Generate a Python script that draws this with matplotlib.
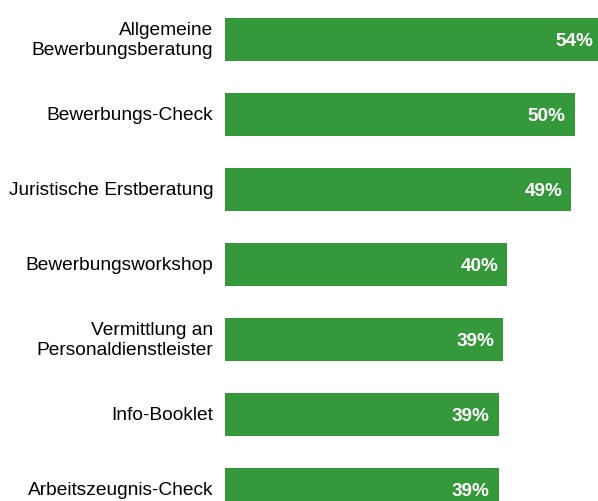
import matplotlib
matplotlib.use("Agg")
import matplotlib.pyplot as plt

categories = [
    "Allgemeine\nBewerbungsberatung",
    "Bewerbungs-Check",
    "Juristische Erstberatung",
    "Bewerbungsworkshop",
    "Vermittlung an\nPersonaldienstleister",
    "Info-Booklet",
    "Arbeitszeugnis-Check",
]
values = [53.6, 49.7, 49.2, 40.1, 39.5, 38.9, 38.9]
value_labels = ["54%", "50%", "49%", "40%", "39%", "39%", "39%"]

plt.rcParams['font.family'] = ['Liberation Sans', 'DejaVu Sans']

W, H = 598, 502
fig = plt.figure(figsize=(W / 100, H / 100), dpi=100)
ax = fig.add_axes([225 / W, 0, 1 - 225 / W, 1])

color = '#35983a'
pos = list(range(len(categories)))
ax.barh(pos, values, height=0.567, color=color, zorder=2)

ax.set_xlim(0, 53.0)
ax.set_ylim((H - 40.5) / 75.0, -40.5 / 75.0)

for i, (v, lab) in enumerate(zip(values, value_labels)):
    ax.annotate(lab, xy=(v, i), xytext=(-9, -1), textcoords='offset pixels',
                ha='right', va='center', color='white', fontweight='bold',
                fontsize=13.6, annotation_clip=False)
    ax.annotate(categories[i], xy=(0, i), xytext=(-12, 0), textcoords='offset pixels',
                ha='right', va='center', color='black', fontsize=13.75,
                multialignment='right', annotation_clip=False, linespacing=1.2)

ax.set_xticks([])
ax.set_yticks([])
for s in ax.spines.values():
    s.set_visible(False)
ax.patch.set_alpha(0)

fig.savefig("out.png", dpi=100)
